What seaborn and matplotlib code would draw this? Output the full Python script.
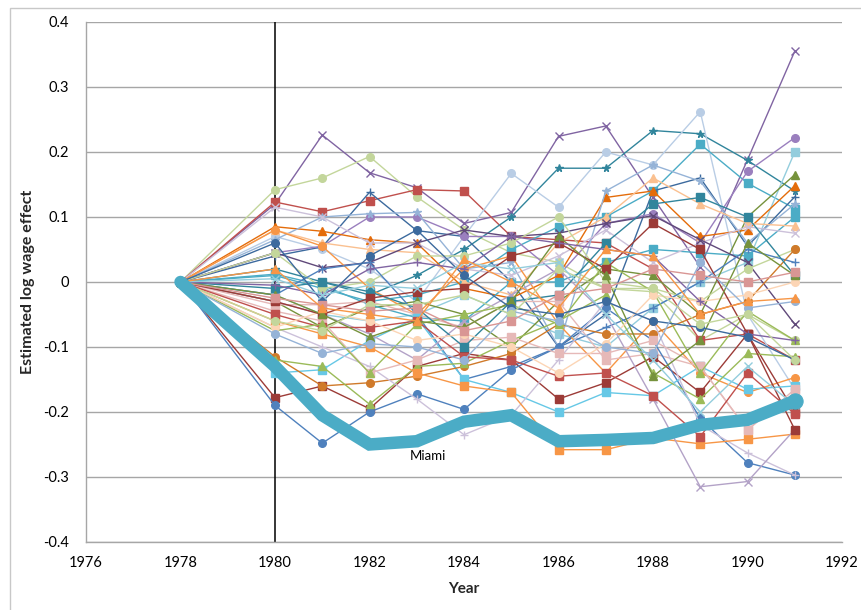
import matplotlib
matplotlib.use("Agg")
import matplotlib.pyplot as plt
import seaborn as sns
from matplotlib.patches import Rectangle

# years with observations (1979 is missing in the data)
years = [1978, 1980, 1981, 1982, 1983, 1984, 1985, 1986, 1987, 1988, 1989, 1990, 1991]

miami = [0, -0.13, -0.205, -0.25, -0.245, -0.215, -0.205, -0.245, -0.243, -0.24, -0.22, -0.212, -0.183]

# donor cities, one list of values per city
donor_series = [
    [0, 0.120, 0.226, 0.168, 0.145, 0.090, 0.107, 0.224, 0.240, 0.130, 0.023, 0.188, 0.355],
    [0, 0.142, 0.160, 0.193, 0.131, 0.080, 0.045, 0.030, -0.010, -0.015, -0.090, -0.050, -0.090],
    [0, 0.123, 0.108, 0.125, 0.142, 0.140, 0.070, 0.065, 0.060, 0.020, -0.090, -0.080, -0.120],
    [0, 0.020, 0.000, -0.020, 0.010, 0.050, 0.100, 0.175, 0.175, 0.233, 0.228, 0.187, 0.140],
    [0, 0.070, 0.050, 0.020, -0.030, 0.070, 0.167, 0.115, 0.200, 0.180, 0.262, -0.050, -0.165],
    [0, 0.010, -0.010, -0.030, -0.020, 0.000, 0.050, 0.085, 0.100, 0.140, 0.212, 0.152, 0.113],
    [0, 0.040, 0.054, 0.138, 0.079, 0.070, 0.000, -0.100, -0.050, 0.140, 0.160, 0.055, 0.131],
    [0, 0.045, 0.055, 0.100, 0.100, 0.070, 0.070, 0.010, 0.090, 0.105, 0.060, 0.170, 0.222],
    [0, -0.020, -0.050, -0.060, -0.050, -0.020, -0.050, -0.080, -0.100, -0.040, 0.000, 0.030, 0.200],
    [0, -0.030, -0.070, -0.040, -0.030, -0.050, -0.100, -0.030, 0.020, 0.010, -0.050, 0.100, 0.165],
    [0, 0.085, 0.078, 0.065, 0.060, -0.010, -0.025, 0.010, 0.130, 0.140, 0.070, 0.080, 0.148],
    [0, 0.065, 0.100, 0.105, 0.107, 0.020, 0.030, -0.100, 0.140, 0.180, 0.155, 0.060, 0.120],
    [0, 0.012, -0.005, -0.035, -0.055, -0.060, 0.000, 0.000, 0.030, 0.050, 0.045, 0.040, 0.100],
    [0, 0.080, 0.060, 0.050, 0.045, 0.000, -0.020, 0.060, 0.100, 0.160, 0.120, 0.090, 0.086],
    [0, 0.115, 0.100, 0.060, 0.060, 0.020, 0.010, 0.040, 0.080, 0.030, 0.060, 0.085, 0.075],
    [0, 0.045, 0.022, 0.030, 0.060, 0.080, 0.070, 0.075, 0.090, 0.102, 0.065, 0.030, -0.065],
    [0, 0.045, -0.010, 0.000, 0.040, 0.040, 0.060, 0.100, 0.000, -0.010, -0.030, 0.020, 0.050],
    [0, 0.080, 0.055, -0.010, -0.050, 0.020, 0.040, -0.065, -0.140, -0.060, -0.140, -0.170, -0.147],
    [0, -0.020, 0.020, 0.030, -0.050, -0.150, -0.130, -0.100, -0.070, -0.040, 0.000, 0.050, 0.030],
    [0, -0.035, -0.035, -0.030, -0.050, -0.070, -0.030, -0.030, -0.120, -0.110, -0.130, -0.227, -0.170],
    [0, -0.178, -0.160, -0.195, -0.130, -0.110, -0.120, -0.180, -0.155, -0.115, -0.170, -0.080, -0.200],
    [0, -0.190, -0.248, -0.200, -0.172, -0.196, -0.135, -0.100, -0.040, -0.090, -0.210, -0.278, -0.297],
    [0, -0.140, -0.135, -0.090, -0.055, -0.150, -0.170, -0.200, -0.170, -0.175, -0.130, -0.165, -0.160],
    [0, -0.115, -0.160, -0.155, -0.145, -0.130, -0.110, -0.065, -0.080, -0.080, -0.050, -0.030, 0.050],
    [0, -0.120, -0.130, -0.188, -0.130, -0.125, -0.090, -0.060, -0.020, -0.140, -0.180, -0.110, -0.115],
    [0, -0.070, -0.100, -0.130, -0.180, -0.235, -0.205, -0.120, -0.030, -0.060, -0.220, -0.263, -0.297],
    [0, -0.060, -0.080, -0.100, -0.140, -0.160, -0.170, -0.258, -0.258, -0.240, -0.249, -0.242, -0.234],
    [0, -0.030, -0.050, -0.080, -0.120, -0.060, -0.020, 0.020, -0.050, -0.180, -0.315, -0.307, -0.227],
    [0, -0.045, -0.060, -0.140, -0.120, -0.090, -0.085, -0.110, -0.110, -0.090, -0.130, -0.228, -0.165],
    [0, -0.050, -0.070, -0.070, -0.060, -0.115, -0.120, -0.145, -0.140, -0.175, -0.238, -0.140, -0.203],
    [0, -0.075, -0.065, -0.140, -0.065, -0.050, -0.035, -0.065, 0.030, -0.015, -0.140, -0.045, -0.090],
    [0, -0.010, 0.000, -0.015, -0.040, -0.100, -0.030, -0.020, 0.060, 0.120, 0.130, 0.100, 0.010],
    [0, -0.070, -0.045, -0.060, -0.090, -0.080, -0.100, -0.140, -0.095, -0.020, -0.030, -0.020, 0.000],
    [0, -0.030, -0.050, -0.025, -0.015, -0.010, 0.040, 0.060, 0.020, 0.090, 0.050, -0.080, -0.227],
    [0, -0.020, -0.050, -0.085, -0.060, -0.070, -0.030, 0.070, 0.010, -0.145, -0.090, 0.060, 0.010],
    [0, -0.005, -0.020, 0.020, 0.030, 0.020, 0.070, 0.060, 0.050, 0.040, -0.030, -0.080, -0.090],
    [0, 0.060, -0.030, 0.040, 0.080, 0.010, -0.040, -0.050, -0.030, -0.060, -0.070, -0.085, -0.120],
    [0, -0.080, -0.110, -0.095, -0.100, -0.120, -0.045, -0.060, -0.100, -0.110, 0.030, -0.040, -0.030],
    [0, -0.060, -0.075, -0.035, -0.035, -0.020, -0.050, 0.020, -0.010, -0.010, -0.065, -0.050, -0.120],
    [0, 0.005, -0.020, -0.005, -0.010, 0.030, 0.020, 0.030, -0.050, -0.120, -0.200, -0.130, -0.190],
    [0, -0.025, -0.035, -0.045, -0.040, -0.075, -0.060, -0.020, -0.010, 0.020, 0.010, 0.000, 0.015],
    [0, 0.020, -0.040, -0.050, -0.060, 0.035, 0.000, -0.040, 0.050, 0.040, -0.050, -0.030, -0.025],
]

donor_colors = [
    "#8064A2", "#C3D69B", "#C0504D", "#31859C", "#B9CDE5", "#4BACC6", "#3C6A9E",
    "#9A7FBE", "#93CDDD", "#76923C", "#E46C0A", "#95B3D7", "#4BACC6", "#FAC090",
    "#CCC1DA", "#60497A", "#C3D69B", "#F79646", "#4F81BD", "#E6B9B8", "#9C3B37",
    "#4F81BD", "#66C8E6", "#D07A2A", "#9BBB59", "#CCC1DA", "#F79646", "#B3A2C7",
    "#E6B9B8", "#C0504D", "#9BBB59", "#31859C", "#FCD5B5", "#9C3B37", "#76923C",
    "#8064A2", "#3C6A9E", "#95B3D7", "#C3D69B", "#93CDDD", "#D99694", "#F79646",
]
donor_markers = [
    "x", "o", "s", "*", "o", "s", "+", "o", "s", "^", "^", "*", "s", "^",
    "x", "x", "o", "o", "+", "s", "s", "o", "s", "o", "^", "+", "s", "x",
    "s", "s", "^", "s", "o", "s", "^", "+", "o", "o", "o", "x", "s", "^",
]

x_ticks = [1976, 1978, 1980, 1982, 1984, 1986, 1988, 1990, 1992]
y_ticks = [-0.4, -0.3, -0.2, -0.1, 0, 0.1, 0.2, 0.3, 0.4]
y_tick_labels = ["-0.4", "-0.3", "-0.2", "-0.1", "0", "0.1", "0.2", "0.3", "0.4"]

sns.set_theme(style="white")
plt.rcParams["font.family"] = ["Lato", "DejaVu Sans"]

fig = plt.figure(figsize=(8.62, 6.10), dpi=100)
ax = fig.add_axes([0.0998, 0.1115, 0.877, 0.8525])

for vals, col, mk in zip(donor_series, donor_colors, donor_markers):
    sns.lineplot(x=years, y=vals, color=col, marker=mk, markersize=5.5,
                 markeredgecolor=col, markeredgewidth=1.0, linewidth=1.0,
                 ax=ax, zorder=3)

# thick Miami line, only the last point shows its marker
sns.lineplot(x=years, y=miami, color="#4BACC6", linewidth=9, marker="o",
             markersize=11, markevery=[len(years) - 1],
             markeredgecolor="#4BACC6", solid_joinstyle="miter", ax=ax, zorder=5)

ax.axvline(1980, color="black", linewidth=1.1, zorder=2)
ax.text(1982.85, -0.268, "Miami", fontsize=9.5, va="center", ha="left", color="black")

ax.set_xlim(1976, 1992)
ax.set_ylim(-0.4, 0.4)
ax.set_xticks(x_ticks)
ax.set_xticklabels([str(t) for t in x_ticks])
ax.set_yticks(y_ticks)
ax.set_yticklabels(y_tick_labels)
ax.yaxis.grid(True, color="#a6a6a6", linewidth=1.0)
ax.set_axisbelow(True)

for side in ["top", "right"]:
    ax.spines[side].set_visible(False)
for side in ["left", "bottom"]:
    ax.spines[side].set_color("#a6a6a6")
    ax.spines[side].set_linewidth(1.0)

ax.tick_params(axis="both", direction="out", length=4, width=1, color="#a6a6a6",
               labelsize=10.5, labelcolor="black")
ax.tick_params(axis="y", pad=8)
ax.tick_params(axis="x", pad=6)

ax.set_xlabel("Year", fontweight="bold", fontsize=11, labelpad=9)
ax.set_ylabel("Estimated log wage effect", fontweight="bold", fontsize=11.5, labelpad=6)

# light chart-area frame like the spreadsheet export
fig.patches.append(Rectangle((10 / 862, -0.02), 1.0, 1 - 8 / 610 + 0.02,
                             transform=fig.transFigure, fill=False,
                             edgecolor="#c8c8c8", linewidth=1.0))

fig.savefig("out.png", dpi=100)
